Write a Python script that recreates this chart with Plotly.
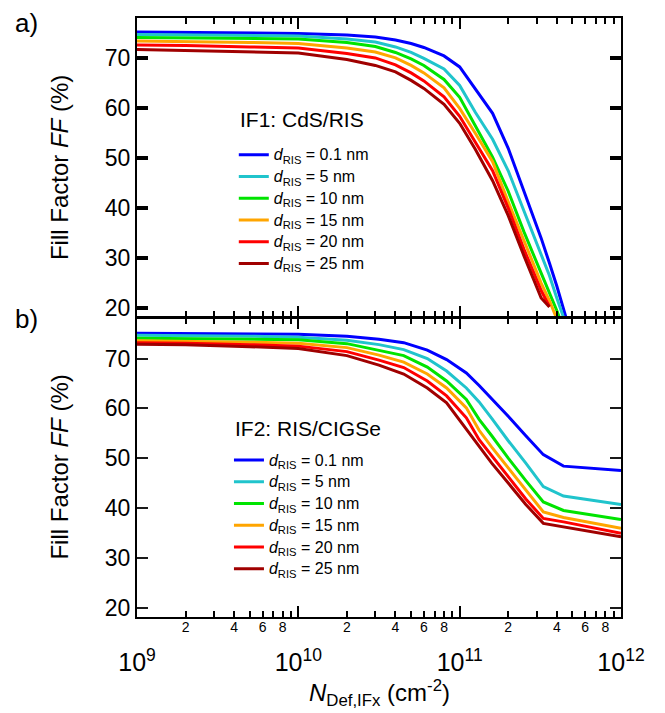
import plotly.graph_objects as go

# ---------------- data ----------------
labels = ["0.1 nm", "5 nm", "10 nm", "15 nm", "20 nm", "25 nm"]
colors = ["#0000FF", "#20C4CC", "#00E400", "#FFA500", "#FF0000", "#A00000"]

# Panel a) IF1: CdS/RIS
n_if1 = [1e9, 2e9, 5e9, 1e10, 2e10, 3e10, 4e10, 5e10, 6e10, 8e10, 1e11,
         1.25e11, 1.6e11, 2e11, 2.5e11, 3.2e11, 3.6e11, 4e11, 5e11]
ff_if1_01 = [75.3, 75.25, 75.1, 75.0, 74.7, 74.3, 73.7, 73.0, 72.2, 70.5, 68.3,
             64.0, 59.0, 52.0, 43.5, 34.0, 29.0, 24.4, 13.7]
ff_if1_05 = [74.8, 74.7, 74.6, 74.5, 73.9, 73.3, 72.3, 71.2, 70.0, 67.9, 64.6,
             59.2, 53.8, 47.5, 39.5, 30.5, 26.5, 22.0, 13.0]
ff_if1_10 = [74.2, 74.1, 74.0, 73.9, 73.2, 72.4, 71.2, 69.9, 68.6, 65.8, 62.2,
             56.6, 50.2, 43.4, 35.3, 27.0, 23.0, 19.5, 11.0]
ff_if1_15 = [73.5, 73.4, 73.2, 73.0, 72.1, 71.3, 70.1, 68.6, 67.1, 64.1, 60.0,
             55.0, 49.3, 41.3, 33.5, 25.0, 21.5, 18.0, 10.0]
ff_if1_20 = [72.7, 72.6, 72.3, 72.1, 71.0, 70.1, 68.7, 67.1, 65.5, 62.3, 58.4,
             53.3, 47.5, 40.0, 31.8, 23.5, 20.3, None, None]
ff_if1_25 = [71.8, 71.6, 71.3, 71.1, 69.8, 68.6, 67.3, 65.6, 64.0, 60.8, 57.0,
             51.8, 45.5, 38.5, 30.5, 22.0, 20.2, None, None]

# Panel b) IF2: RIS/CIGSe
n_if2 = [1e9, 2e9, 5e9, 1e10, 2e10, 3.16e10, 4.5e10, 6.3e10, 8.3e10, 1.1e11,
         1.32e11, 1.58e11, 2e11, 2.57e11, 3.3e11, 4.4e11, 1e12]
ff_if2_01 = [75.1, 75.05, 75.0, 74.9, 74.5, 73.9, 73.2, 71.7, 69.8, 67.1,
             64.6, 62.0, 58.4, 54.5, 50.7, 48.4, 47.5]
ff_if2_05 = [74.7, 74.65, 74.5, 74.3, 73.7, 72.8, 71.8, 70.0, 67.5, 64.1,
             61.3, 58.0, 53.5, 49.0, 44.3, 42.4, 40.7]
ff_if2_10 = [74.1, 74.05, 73.95, 73.8, 73.0, 71.7, 70.6, 68.3, 65.5, 61.8,
             57.8, 54.5, 50.0, 45.5, 41.2, 39.5, 37.7]
ff_if2_15 = [73.6, 73.5, 73.3, 73.1, 72.2, 70.7, 69.3, 66.9, 64.1, 60.1,
             55.6, 52.2, 48.0, 43.5, 39.2, 38.1, 35.9]
ff_if2_20 = [73.2, 73.1, 72.8, 72.5, 71.4, 69.7, 68.2, 65.5, 62.5, 58.1,
             53.7, 50.5, 46.3, 41.8, 37.9, 37.2, 34.9]
ff_if2_25 = [72.9, 72.8, 72.4, 72.0, 70.6, 68.7, 66.9, 64.1, 61.1, 55.7,
             52.2, 49.0, 45.0, 40.7, 36.9, 36.2, 34.2]

if1_series = [ff_if1_01, ff_if1_05, ff_if1_10, ff_if1_15, ff_if1_20, ff_if1_25]
if2_series = [ff_if2_01, ff_if2_05, ff_if2_10, ff_if2_15, ff_if2_20, ff_if2_25]

decade_vals = [1e9, 1e10, 1e11, 1e12]
decade_text = ["10<sup>9</sup>", "10<sup>10</sup>", "10<sup>11</sup>", "10<sup>12</sup>"]
minor_vals = [m * 10 ** e for e in (9, 10, 11) for m in range(2, 10)]
minor_text = [(str(m) if m % 2 == 0 else "") for e in (9, 10, 11) for m in range(2, 10)]

FONT = "Liberation Sans, Arial, sans-serif"


def entry(lbl):
    return ('<span style="font-size:16px"><i>d</i><sub>RIS</sub> = '
            + lbl + '</span>')


fig = go.Figure()

for i in range(6):
    fig.add_trace(go.Scatter(
        x=n_if1, y=if1_series[i], mode="lines", xaxis="x", yaxis="y",
        line=dict(color=colors[i], width=3),
        name=entry(labels[i]), legend="legend", connectgaps=False))
for i in range(6):
    fig.add_trace(go.Scatter(
        x=n_if2, y=if2_series[i], mode="lines", xaxis="x2", yaxis="y2",
        line=dict(color=colors[i], width=3),
        name=entry(labels[i]), legend="legend2"))

fig.add_trace(go.Scatter(x=[1e9], y=[None], xaxis="x3", yaxis="y2",
                         showlegend=False, hoverinfo="skip"))

xr = [9, 12]
gap = 1.0 / 601
tf = dict(size=23, family=FONT, color="black")
minor_cfg = dict(ticks="inside", ticklen=6, tickwidth=2, tickcolor="black",
                 dtick="D1", showgrid=False)

fig.update_layout(
    width=657, height=705,
    margin=dict(l=129, r=44, t=8, b=96),
    paper_bgcolor="white", plot_bgcolor="white",
    font=dict(family=FONT, color="black"),
    xaxis=dict(type="log", range=xr, anchor="y", showticklabels=False,
               showgrid=False, zeroline=False, showline=True, linecolor="black",
               linewidth=2, mirror="ticks", ticks="inside", ticklen=11,
               tickwidth=2, tickcolor="black", tickvals=decade_vals,
               minor=minor_cfg),
    xaxis2=dict(type="log", range=xr, anchor="y2", showgrid=False, zeroline=False,
                showline=True, linecolor="black", linewidth=2, mirror="ticks",
                ticks="inside", ticklen=11, tickwidth=2, tickcolor="black",
                tickvals=decade_vals, ticktext=decade_text,
                tickfont=dict(size=25, family=FONT, color="black"),
                ticklabelstandoff=22, minor=minor_cfg),
    xaxis3=dict(type="log", range=xr, overlaying="x2", anchor="y2", side="bottom",
                showgrid=False, zeroline=False, showline=False, ticks="",
                tickvals=minor_vals, ticktext=minor_text,
                tickfont=dict(size=14, family=FONT, color="black")),
    yaxis=dict(range=[18.3, 78.1], domain=[0.5 + gap, 1], anchor="x",
               showgrid=False, zeroline=False, showline=True, linecolor="black",
               linewidth=2, mirror="ticks", ticks="inside", ticklen=11,
               tickwidth=4, tickcolor="black", dtick=10, tickfont=tf),
    yaxis2=dict(range=[18.1, 78.05], domain=[0, 0.5 - gap], anchor="x2",
                showgrid=False, zeroline=False, showline=True, linecolor="black",
                linewidth=2, mirror="ticks", ticks="inside", ticklen=11,
                tickwidth=2, tickcolor="#1a1a1a", dtick=10, tickfont=tf),
    legend=dict(x=0.2, y=0.798, xanchor="left", yanchor="top",
                bgcolor="rgba(0,0,0,0)", borderwidth=0,
                font=dict(size=14.4, family=FONT), itemwidth=30, tracegroupgap=0),
    legend2=dict(x=0.19, y=0.2884, xanchor="left", yanchor="top",
                 bgcolor="rgba(0,0,0,0)", borderwidth=0,
                 font=dict(size=14.4, family=FONT), itemwidth=30, tracegroupgap=0),
    showlegend=True,
)

ann = [
    dict(text="a)", x=-0.256, y=(617 - 21) / 601, xanchor="left", yanchor="middle", font=dict(size=26)),
    dict(text="b)", x=-0.256, y=0.497, xanchor="left", yanchor="middle", font=dict(size=26)),
    dict(text="Fill Factor <i>FF</i> (%)", x=-0.1605, y=0.75, textangle=-90,
         xanchor="center", yanchor="middle", font=dict(size=24)),
    dict(text="Fill Factor <i>FF</i> (%)", x=-0.1605, y=0.25, textangle=-90,
         xanchor="center", yanchor="middle", font=dict(size=24)),
    dict(text="<i>N</i><sub>Def,IFx</sub> (cm<sup>-2</sup>)", x=0.502, y=-0.1265,
         xanchor="center", yanchor="middle", font=dict(size=24)),
    dict(text="IF1: CdS/RIS", x=(238 - 137) / 484, y=(617 - 118) / 601,
         xanchor="left", yanchor="middle", font=dict(size=21)),
    dict(text="IF2: RIS/CIGSe", x=(233 - 137) / 484, y=(617 - 428) / 601,
         xanchor="left", yanchor="middle", font=dict(size=21)),
]
for a in ann:
    a.update(xref="paper", yref="paper", showarrow=False)
    a["font"].update(family=FONT, color="black")
    fig.add_annotation(**a)

fig.write_html("out.html")
